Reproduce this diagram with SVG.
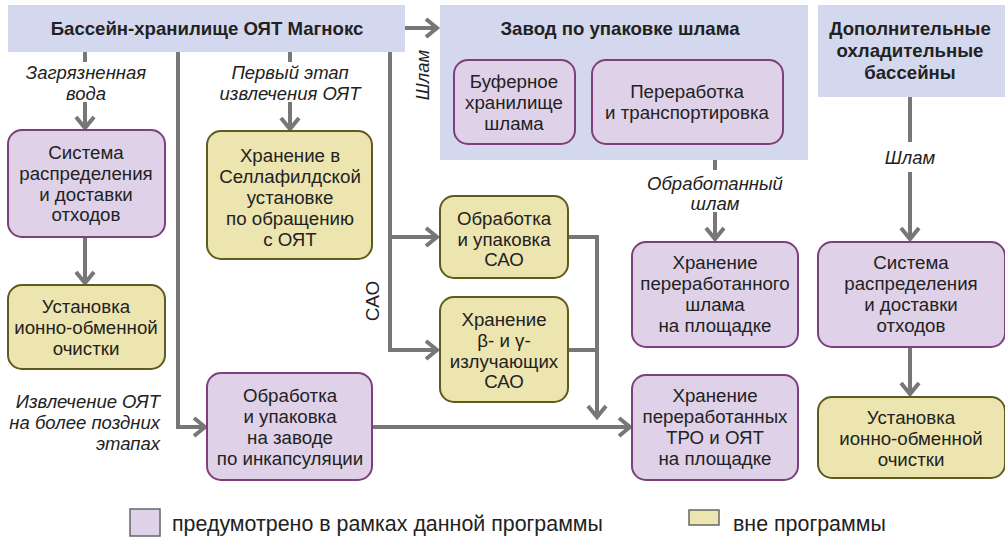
<svg xmlns="http://www.w3.org/2000/svg" width="1005" height="537" viewBox="0 0 1005 537">
<defs>
<style>
.t{font-family:"Liberation Sans",Arial,sans-serif;font-size:18.7px;fill:#222;text-anchor:middle}
.b{font-weight:bold;font-size:18.6px}
.i{font-style:italic;font-size:18.5px}
.lg{font-size:21.4px;text-anchor:start}
.blue{fill:#d3d8ee}
.lav{fill:#dfd1e8;stroke:#7e3f7c;stroke-width:2}
.yel{fill:#ede5b0;stroke:#5f5b1f;stroke-width:2}
.c{fill:none;stroke:#777;stroke-width:4}
</style>
<marker id="ah" markerUnits="userSpaceOnUse" markerWidth="20" markerHeight="24" refX="14" refY="12" orient="auto">
<path d="M3,3 L14,12 L3,21" fill="none" stroke="#777" stroke-width="4"/>
</marker>
</defs>
<rect width="1005" height="537" fill="#fff"/>

<g id="connectors">
<line class="c" x1="85" y1="52" x2="85" y2="62"/>
<line class="c" x1="85" y1="102" x2="85" y2="128" marker-end="url(#ah)"/>
<line class="c" x1="85" y1="237" x2="85" y2="283" marker-end="url(#ah)"/>
<line class="c" x1="290" y1="52" x2="290" y2="62"/>
<line class="c" x1="290" y1="102" x2="290" y2="129" marker-end="url(#ah)"/>
<polyline class="c" points="178,52 178,427 205,427" marker-end="url(#ah)"/>
<line class="c" x1="405" y1="28" x2="437" y2="28" marker-end="url(#ah)"/>
<polyline class="c" points="390,52 390,350 437,350" marker-end="url(#ah)"/>
<line class="c" x1="390" y1="237" x2="437" y2="237" marker-end="url(#ah)"/>
<polyline class="c" points="568,237 597,237 597,417" marker-end="url(#ah)"/>
<line class="c" x1="568" y1="350" x2="597" y2="350"/>
<line class="c" x1="372" y1="427" x2="630" y2="427" marker-end="url(#ah)"/>
<line class="c" x1="715" y1="160" x2="715" y2="170"/>
<line class="c" x1="715" y1="212" x2="715" y2="239" marker-end="url(#ah)"/>
<line class="c" x1="910" y1="97" x2="910" y2="142"/>
<line class="c" x1="910" y1="172" x2="910" y2="239" marker-end="url(#ah)"/>
<line class="c" x1="910" y1="347" x2="910" y2="394" marker-end="url(#ah)"/>
<text class="t i" x="86" y="79">Загрязненная</text>
<text class="t i" x="86" y="100">вода</text>
<text class="t i" x="290" y="79">Первый этап</text>
<text class="t i" x="290" y="100">извлечения ОЯТ</text>
<text class="t i" transform="translate(429,75) rotate(-90)">Шлам</text>
<text class="t" style="font-size:19px" transform="translate(379,301) rotate(-90)">САО</text>
<text class="t i" x="715" y="190">Обработанный</text>
<text class="t i" x="715" y="210">шлам</text>
<text class="t i" x="910" y="164">Шлам</text>
<text class="t i" x="160" y="408" style="text-anchor:end">Извлечение ОЯТ</text>
<text class="t i" x="160" y="429" style="text-anchor:end">на более поздних</text>
<text class="t i" x="160" y="450" style="text-anchor:end">этапах</text>
</g>

<g id="magnox">
<rect class="blue" x="8" y="5" width="397" height="47"/>
<text class="t b" x="207" y="35">Бассейн-хранилище ОЯТ Магнокс</text>
</g>

<g id="sludge-plant">
<rect class="blue" x="440" y="5" width="368" height="155"/>
<text class="t b" x="620" y="35">Завод по упаковке шлама</text>
</g>
<g id="buffer">
<rect class="lav" x="454" y="60" width="121" height="84" rx="14"/>
<text class="t" x="514" y="88">Буферное</text>
<text class="t" x="514" y="109">хранилище</text>
<text class="t" x="514" y="130">шлама</text>
</g>
<g id="processing">
<rect class="lav" x="592" y="60" width="191" height="84" rx="14"/>
<text class="t" x="687" y="98">Переработка</text>
<text class="t" x="687" y="119">и транспортировка</text>
</g>

<g id="extra-pools">
<rect class="blue" x="818" y="5" width="187" height="92"/>
<text class="t b" x="910" y="35">Дополнительные</text>
<text class="t b" x="910" y="57">охладительные</text>
<text class="t b" x="910" y="79">бассейны</text>
</g>

<g id="dist-left">
<rect class="lav" x="8" y="130" width="157" height="107" rx="14"/>
<text class="t" x="86" y="159">Система</text>
<text class="t" x="86" y="180">распределения</text>
<text class="t" x="86" y="201">и доставки</text>
<text class="t" x="86" y="221">отходов</text>
</g>
<g id="ion-left">
<rect class="yel" x="8" y="285" width="157" height="84" rx="14"/>
<text class="t" x="86" y="313">Установка</text>
<text class="t" x="86" y="334">ионно-обменной</text>
<text class="t" x="86" y="355">очистки</text>
</g>

<g id="sellafield">
<rect class="yel" x="207" y="131" width="165" height="128" rx="14"/>
<text class="t" x="290" y="162">Хранение в</text>
<text class="t" x="290" y="183">Селлафилдской</text>
<text class="t" x="290" y="204">установке</text>
<text class="t" x="290" y="225">по обращению</text>
<text class="t" x="290" y="246">с ОЯТ</text>
</g>

<g id="encap">
<rect class="lav" x="207" y="373" width="165" height="107" rx="14"/>
<text class="t" x="290" y="402">Обработка</text>
<text class="t" x="290" y="423">и упаковка</text>
<text class="t" x="290" y="444">на заводе</text>
<text class="t" x="290" y="465">по инкапсуляции</text>
</g>

<g id="ilw-pack">
<rect class="yel" x="440" y="196" width="128" height="82" rx="14"/>
<text class="t" x="504" y="225">Обработка</text>
<text class="t" x="504" y="246">и упаковка</text>
<text class="t" x="504" y="266">САО</text>
</g>

<g id="ilw-store">
<rect class="yel" x="440" y="297" width="128" height="105" rx="14"/>
<text class="t" x="504" y="326">Хранение</text>
<text class="t" x="504" y="347">β- и γ-</text>
<text class="t" x="504" y="368">излучающих</text>
<text class="t" x="504" y="388">САО</text>
</g>

<g id="sludge-store">
<rect class="lav" x="632" y="242" width="166" height="105" rx="14"/>
<text class="t" x="715" y="269">Хранение</text>
<text class="t" x="715" y="290">переработанного</text>
<text class="t" x="715" y="311">шлама</text>
<text class="t" x="715" y="332">на площадке</text>
</g>

<g id="tro-store">
<rect class="lav" x="632" y="375" width="166" height="105" rx="14"/>
<text class="t" x="715" y="402">Хранение</text>
<text class="t" x="715" y="423">переработанных</text>
<text class="t" x="715" y="444">ТРО и ОЯТ</text>
<text class="t" x="715" y="465">на площадке</text>
</g>

<g id="dist-right">
<rect class="lav" x="818" y="242" width="187" height="105" rx="14"/>
<text class="t" x="911" y="269">Система</text>
<text class="t" x="911" y="290">распределения</text>
<text class="t" x="911" y="311">и доставки</text>
<text class="t" x="911" y="332">отходов</text>
</g>

<g id="ion-right">
<rect class="yel" x="818" y="397" width="187" height="81" rx="14"/>
<text class="t" x="911" y="424">Установка</text>
<text class="t" x="911" y="445">ионно-обменной</text>
<text class="t" x="911" y="466">очистки</text>
</g>

<g id="legend">
<rect x="130" y="509" width="30" height="27" fill="#dfd1e8" stroke="#666" stroke-width="1.5"/>
<text class="t lg" x="172" y="531">предумотрено в рамках данной программы</text>
<rect x="689" y="510" width="30" height="15" fill="#ede5b0" stroke="#666" stroke-width="1.5"/>
<text class="t lg" x="733" y="531">вне программы</text>
</g>
</svg>
